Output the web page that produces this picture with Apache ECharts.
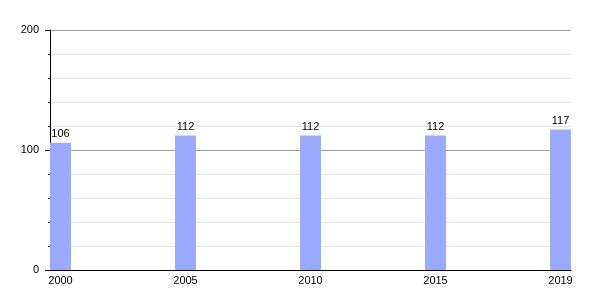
<!DOCTYPE html>
<html><head><meta charset="utf-8">
<script src="https://cdn.jsdelivr.net/npm/echarts@6/dist/echarts.min.js"></script>
<style>html,body{margin:0;padding:0;background:#fff}#c{width:600px;height:300px}</style>
</head><body><div id="c"></div>
<script>
const categories = ['2000', '2005', '2010', '2015', '2019'];
const values = [106, 112, 112, 112, 117];
const yTicks = [0, 100, 200];

const font = 'Liberation Sans, Arial, sans-serif';
const chart = echarts.init(document.getElementById('c'), null, {renderer: 'canvas'});
chart.setOption({
  animation: false,
  backgroundColor: '#fff',
  grid: [
    {left: 50, right: 29, top: 30, bottom: 30},
    {left: 60.5, right: 39.5, top: 30, bottom: 30}
  ],
  xAxis: [
    {gridIndex: 0, type: 'value', min: 0, max: 1, axisLabel: {show: false}, axisTick: {show: false},
     splitLine: {show: false}, axisLine: {show: true, lineStyle: {color: '#000', width: 1}}},
    {gridIndex: 1, type: 'category', data: categories, boundaryGap: false,
     axisLine: {show: false}, axisTick: {show: false}, splitLine: {show: false},
     axisLabel: {color: '#000', fontSize: 11, fontFamily: font, margin: 5, interval: 0}}
  ],
  yAxis: [
    {gridIndex: 0, type: 'value', min: yTicks[0], max: yTicks[yTicks.length - 1], interval: 100,
     axisLine: {show: true, lineStyle: {color: '#000', width: 1}},
     axisTick: {show: true, length: 5, lineStyle: {color: '#000'}},
     minorTick: {show: true, splitNumber: 5, length: 2, lineStyle: {color: '#000'}},
     splitLine: {show: true, lineStyle: {color: '#a0a0a0', width: 1}},
     minorSplitLine: {show: true, lineStyle: {color: '#e2e2e2', width: 1}},
     axisLabel: {color: '#000', fontSize: 11, fontFamily: font, margin: 11}},
    {gridIndex: 1, type: 'value', min: 0, max: 200, show: false}
  ],
  series: [{
    type: 'bar', xAxisIndex: 1, yAxisIndex: 1, data: values, barWidth: 21,
    itemStyle: {color: '#99aaff'},
    label: {show: true, position: 'top', distance: 3, color: '#000', fontSize: 11, fontFamily: font}
  }]
});
</script></body></html>
